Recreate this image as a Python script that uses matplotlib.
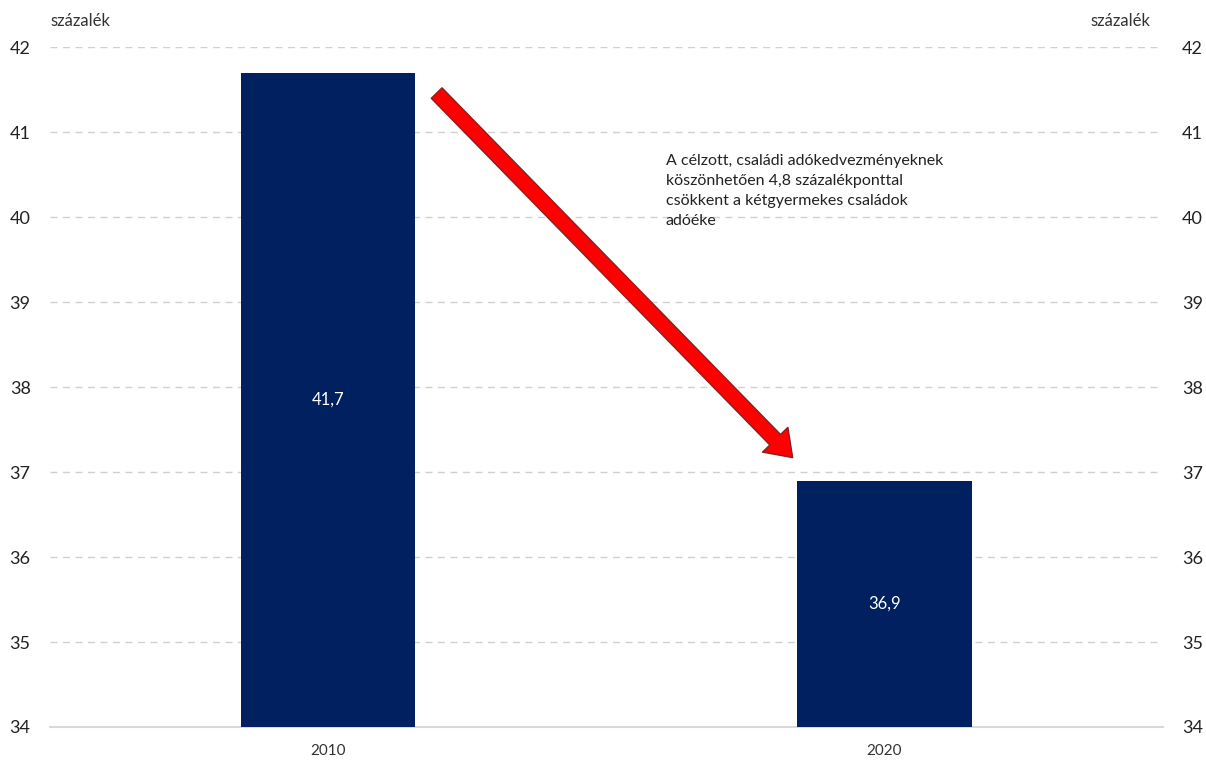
import matplotlib
matplotlib.use("Agg")
import matplotlib.pyplot as plt

categories = ["2010", "2020"]
values = [41.7, 36.9]
value_labels = ["41,7", "36,9"]
yticks = [34, 35, 36, 37, 38, 39, 40, 41, 42]
annotation = ("A célzott, családi adókedvezményeknek\n"
              "köszönhetően 4,8 százalékponttal\n"
              "csökkent a kétgyermekes családok\n"
              "adóéke")

plt.rcParams['font.family'] = ['Lato', 'DejaVu Sans']

fig = plt.figure(figsize=(12.06, 7.61), dpi=100)
ax = fig.add_axes([0.0415, 0.0447, 0.9225, 0.8933])

x = list(range(len(categories)))
ax.bar(x, [v - 34 for v in values], bottom=34, width=0.313, color="#002060", zorder=3)
for xi, v, lab in zip(x, values, value_labels):
    ax.text(xi, (v + 34) / 2, lab, color="white", ha="center", va="center", fontsize=12, zorder=4)

ax.set_xlim(-0.5, 1.5)
ax.set_ylim(34, 42)
ax.set_yticks(yticks)
ax.set_yticklabels([str(t) for t in yticks], fontsize=13, color="#222222")
ax.set_xticks(x)
ax.set_xticklabels(categories, fontsize=11, color="#333333")
ax.tick_params(axis="both", length=0)
ax.tick_params(axis="y", pad=14)
ax.tick_params(axis="x", pad=12)
for yt in yticks[1:]:
    ax.axhline(yt, color="#d0d0d0", lw=1, ls=(0, (5, 4)), zorder=1)
for s in ["top", "left", "right"]:
    ax.spines[s].set_visible(False)
ax.spines["bottom"].set_color("#d9d9d9")
ax.spines["bottom"].set_linewidth(1.5)

ax2 = ax.twinx()
ax2.set_ylim(34, 42)
ax2.set_yticks(yticks)
ax2.set_yticklabels([str(t) for t in yticks], fontsize=13, color="#222222")
ax2.tick_params(axis="y", length=0, pad=14)
for s in ["top", "left", "right", "bottom"]:
    ax2.spines[s].set_visible(False)

fig.text(0.0415, 0.972, "százalék", fontsize=12, color="#333333", ha="left", va="center")
fig.text(0.954, 0.972, "százalék", fontsize=12, color="#333333", ha="right", va="center")

# arrow (start/end in data coordinates, shape in points)
x0, y0 = 0.195, 41.46
x1, y1 = 0.835, 37.17
ax.annotate("", xy=(x1, y1), xytext=(x0, y0),
            arrowprops=dict(arrowstyle="simple,head_length=0.6,head_width=0.85,tail_width=0.36",
                            mutation_scale=30, fc="#ff0000", ec="#8a2020", lw=1.0,
                            shrinkA=0, shrinkB=0),
            zorder=5)

ax.text(0.607, 40.31, annotation, fontsize=11.5, color="#222222", ha="left", va="center",
        linespacing=1.55, zorder=6)

fig.savefig("out.png", dpi=100)
